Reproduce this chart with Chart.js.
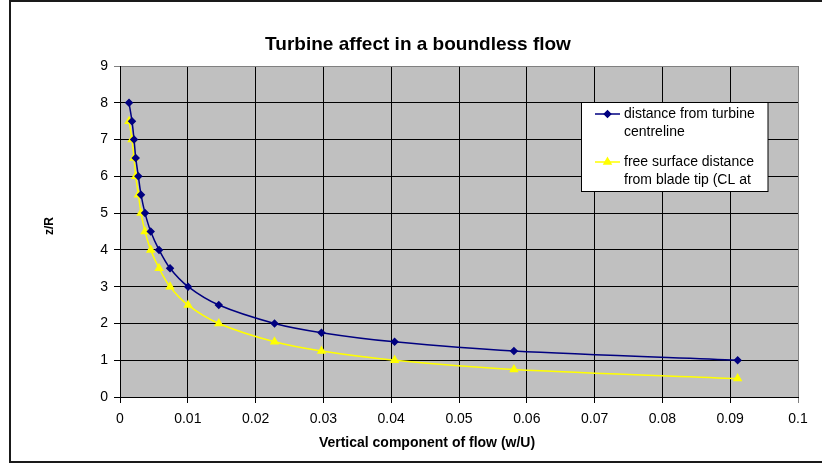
<!DOCTYPE html>
<html>
<head>
<meta charset="utf-8">
<script src="https://cdn.jsdelivr.net/npm/chart.js@4"></script>
<style>
  html, body { margin: 0; padding: 0; background: #fff; }
  #wrap { position: relative; width: 822px; height: 463px; }
</style>
</head>
<body>
<div id="wrap"><canvas id="chart"></canvas></div>
<script>
// ─── Datos ───────────────────────────────────────────────────────────────────
const wU      = [0.00133, 0.00177, 0.00207, 0.00232, 0.00271, 0.0031, 0.00369, 0.00453, 0.00576,
                 0.00738, 0.01004, 0.01457, 0.02279, 0.02972, 0.0405, 0.0581, 0.0911];
const zCentre = [8, 7.5, 7, 6.5, 6, 5.5, 5, 4.5, 4, 3.5, 3, 2.5, 2, 1.75, 1.5, 1.25, 1];
const zTip    = [7.5, 7, 6.5, 6, 5.5, 5, 4.5, 4, 3.5, 3, 2.5, 2, 1.5, 1.25, 1, 0.75, 0.5];
const seriesLabels = ['distance from turbine centreline', 'free surface distance from blade tip (CL at 1R)'];
const chartTitle = 'Turbine affect in a boundless flow';
const xTitle = 'Vertical component of flow (w/U)';
const yTitle = 'z/R';

const FONT = "'Liberation Sans', Arial, sans-serif";
const toXY = ys => ys.map((y, i) => ({ x: wU[i], y }));

// ─── Marco, fondo del área y textos (estilo Excel) ───────────────────────────
const excelLook = {
  id: 'excelLook',
  beforeDraw(chart) {
    const { ctx, chartArea: a } = chart;
    ctx.save();
    ctx.fillStyle = '#fff';
    ctx.fillRect(0, 0, chart.width, chart.height);
    ctx.fillStyle = '#1a1a1a';
    ctx.fillRect(9, 0, 2, 463);
    ctx.fillRect(9, 0, 822, 2);
    ctx.fillRect(9, 461, 822, 2);
    ctx.fillStyle = '#c0c0c0';
    ctx.fillRect(a.left, a.top, a.right - a.left, a.bottom - a.top);
    ctx.restore();
  },
  afterDraw(chart) {
    const ctx = chart.ctx;
    ctx.save();
    ctx.fillStyle = '#000';
    ctx.textAlign = 'center';
    ctx.textBaseline = 'middle';
    ctx.font = `bold 19px ${FONT}`;
    ctx.fillText(chartTitle, 418, 45);
    ctx.font = `bold 14px ${FONT}`;
    ctx.fillText(xTitle, 427, 443);
    ctx.translate(50, 226);
    ctx.rotate(-Math.PI / 2);
    ctx.font = `bold 12px ${FONT}`;
    ctx.fillText(yTitle, 0, 0);
    ctx.restore();

    // leyenda recortada como en el original
    const box = { x: 581.5, y: 102.5, w: 186.5, h: 89 };
    ctx.save();
    ctx.fillStyle = '#fff';
    ctx.fillRect(box.x, box.y, box.w, box.h);
    ctx.strokeStyle = '#000';
    ctx.lineWidth = 1;
    ctx.strokeRect(box.x, box.y, box.w, box.h);
    ctx.beginPath();
    ctx.rect(box.x + 1, box.y + 1, box.w - 2, box.h - 2);
    ctx.clip();
    ctx.font = `14px ${FONT}`;
    ctx.textAlign = 'left';
    ctx.textBaseline = 'middle';
    let y = 114;
    chart.data.datasets.forEach((ds, i) => {
      ctx.strokeStyle = ds.borderColor;
      ctx.lineWidth = 1.5;
      ctx.beginPath();
      ctx.moveTo(595, y); ctx.lineTo(620, y);
      ctx.stroke();
      Chart.helpers.drawPoint(ctx, { pointStyle: ds.pointStyle, radius: ds.pointRadius, borderWidth: 1 }, 607.5, y);
      ctx.fillStyle = ds.pointBackgroundColor;
      ctx.strokeStyle = ds.pointBorderColor;
      ctx.fill();
      // ajuste de líneas
      const words = ds.label.split(' ');
      const lines = [];
      let cur = '';
      words.forEach(w => {
        const t = cur ? cur + ' ' + w : w;
        if (ctx.measureText(t).width > 142 && cur) { lines.push(cur); cur = w; } else cur = t;
      });
      lines.push(cur);
      ctx.fillStyle = '#000';
      lines.forEach((l, k) => ctx.fillText(l, 624, y + k * 18));
      y += 48;
    });
    ctx.restore();
  },
};

const gridColor = (edgeVal) => c => (c.tick && Math.abs(c.tick.value - edgeVal) < 1e-9) ? '#808080' : '#000';

new Chart(document.getElementById('chart'), {
  type: 'scatter',
  data: {
    datasets: [
      {
        label: seriesLabels[0], data: toXY(zCentre), showLine: true,
        borderColor: '#000080', borderWidth: 1.5, tension: 0.3,
        pointStyle: 'rectRot', pointRadius: 3.2, pointBackgroundColor: '#000080', pointBorderColor: '#000080',
      },
      {
        label: seriesLabels[1], data: toXY(zTip), showLine: true,
        borderColor: '#ffff00', borderWidth: 1.5, tension: 0.3,
        pointStyle: 'triangle', pointRadius: 4, pointBackgroundColor: '#ffff00', pointBorderColor: '#ffff00',
      },
    ],
  },
  options: {
    responsive: true, maintainAspectRatio: false, animation: false,
    layout: { padding: { top: 66, right: 24, left: 0, bottom: 0 } },
    plugins: { legend: { display: false }, title: { display: false }, tooltip: { enabled: false } },
    scales: {
      x: {
        type: 'linear', min: 0, max: 0.1,
        afterFit: s => { s.height = 66; },
        ticks: { stepSize: 0.01, color: '#000', padding: 8, maxRotation: 0, autoSkip: false,
                 font: { family: FONT, size: 14 }, callback: v => String(+v.toFixed(2)) },
        grid: { color: gridColor(0.1), lineWidth: 1, tickLength: 6 },
        border: { color: '#000', width: 1 },
      },
      y: {
        type: 'linear', min: 0, max: 9,
        afterFit: s => { s.width = 120; },
        ticks: { stepSize: 1, color: '#000', padding: 6, font: { family: FONT, size: 14 } },
        grid: { color: gridColor(9), lineWidth: 1, tickLength: 6 },
        border: { color: '#000', width: 1 },
      },
    },
  },
  plugins: [excelLook],
});
</script>
</body>
</html>
